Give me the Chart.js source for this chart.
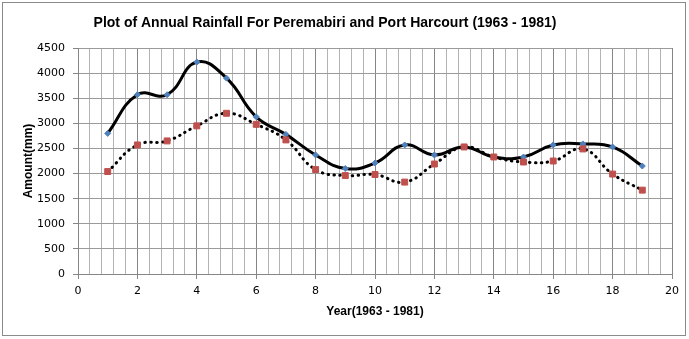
<!DOCTYPE html>
<html lang="en">
<head>
  <meta charset="UTF-8" />
  <title>Annual Rainfall - Peremabiri and Port Harcourt</title>
  <script src="https://cdn.jsdelivr.net/npm/chart.js"></script>
  <style>
    html, body { margin: 0; padding: 0; background: #fff; }
    #wrap { width: 689px; height: 339px; position: relative; }
  </style>
</head>
<body>
  <div id="wrap"><canvas id="chartChuva"></canvas></div>

  <script>
    // anos 1..19 (1963 - 1981)
    const anos = [1, 2, 3, 4, 5, 6, 7, 8, 9, 10, 11, 12, 13, 14, 15, 16, 17, 18, 19];
    const peremabiri = [2800, 3570, 3570, 4220, 3900, 3130, 2780, 2370, 2100, 2210, 2570, 2370, 2530, 2330, 2330, 2570, 2590, 2530, 2150];
    const portHarcourt = [2040, 2570, 2650, 2950, 3200, 2980, 2670, 2080, 1960, 1980, 1830, 2190, 2530, 2330, 2230, 2250, 2490, 1990, 1670];
    const marcasX = [0, 2, 4, 6, 8, 10, 12, 14, 16, 18, 20];

    const titulo = "Plot of Annual Rainfall For Peremabiri and Port Harcourt (1963 - 1981)";
    const tituloX = "Year(1963 - 1981)";
    const tituloY = "Amount(mm)";

    function pontos(ys) {
      return anos.map((x, i) => ({ x: x, y: ys[i] }));
    }

    function ehMaior(v) {
      return marcasX.some(m => Math.abs(m - v) < 1e-6);
    }

    // moldura + titulos desenhados a mao
    const textos = {
      id: 'textos',
      afterDraw(chart) {
        const ctx = chart.ctx;
        const area = chart.chartArea;
        ctx.save();
        ctx.strokeStyle = '#8a8a8a';
        ctx.lineWidth = 1;
        ctx.strokeRect(2.5, 2.5, 683, 333);

        ctx.fillStyle = '#000';
        ctx.textAlign = 'center';
        ctx.textBaseline = 'middle';
        ctx.font = 'bold 14px "Liberation Sans", Arial, sans-serif';
        ctx.fillText(titulo, 325, 23);

        ctx.font = 'bold 12px "Liberation Sans", Arial, sans-serif';
        ctx.fillText(tituloX, (area.left + area.right) / 2, 312);

        ctx.translate(29, (area.top + area.bottom) / 2);
        ctx.rotate(-Math.PI / 2);
        ctx.fillText(tituloY, 0, 0);
        ctx.restore();
      }
    };

    new Chart(document.getElementById('chartChuva'), {
      type: 'scatter',
      data: {
        datasets: [
          {
            label: 'Peremabiri',
            data: pontos(peremabiri),
            showLine: true,
            borderColor: '#000',
            borderWidth: 3,
            tension: 0.45,
            pointStyle: 'rectRot',
            pointRadius: 3,
            pointBackgroundColor: '#4F81BD',
            pointBorderColor: '#4F81BD',
            pointBorderWidth: 1,
            order: 2
          },
          {
            label: 'Port Harcourt',
            data: pontos(portHarcourt),
            showLine: true,
            borderColor: '#000',
            borderWidth: 3,
            borderDash: [0.5, 5.5],
            borderCapStyle: 'round',
            tension: 0.45,
            pointStyle: 'rect',
            pointRadius: 4.2,
            pointBackgroundColor: '#C0504D',
            pointBorderColor: '#C0504D',
            pointBorderWidth: 1,
            order: 1
          }
        ]
      },
      options: {
        responsive: true,
        maintainAspectRatio: false,
        animation: false,
        layout: { padding: { left: 0, right: 17, top: 48, bottom: 0 } },
        plugins: {
          legend: { display: false },
          title: { display: false },
          tooltip: { enabled: false }
        },
        scales: {
          x: {
            type: 'linear',
            min: 0,
            max: 20,
            afterFit(scale) { scale.height = 65; },
            grid: {
              color: c => ehMaior(c.tick.value) ? '#868686' : '#b4b4b4',
              tickColor: c => ehMaior(c.tick.value) ? '#868686' : 'rgba(0,0,0,0)',
              tickLength: 5,
              lineWidth: 1
            },
            border: { color: '#868686' },
            ticks: {
              stepSize: 0.4,
              autoSkip: false,
              maxRotation: 0,
              padding: 6,
              color: '#000',
              font: { family: '"DejaVu Sans", Verdana, sans-serif', size: 11 },
              callback: v => ehMaior(v) ? String(Math.round(v)) : ''
            }
          },
          y: {
            min: 0,
            max: 4500,
            afterFit(scale) { scale.width = 78; },
            grid: {
              color: '#9a9a9a',
              tickColor: '#868686',
              tickLength: 5,
              lineWidth: 1
            },
            border: { color: '#868686' },
            ticks: {
              stepSize: 500,
              padding: 8,
              color: '#000',
              font: { family: '"DejaVu Sans", Verdana, sans-serif', size: 11 },
              callback: v => String(v)
            }
          }
        }
      },
      plugins: [textos]
    });
  </script>
</body>
</html>
